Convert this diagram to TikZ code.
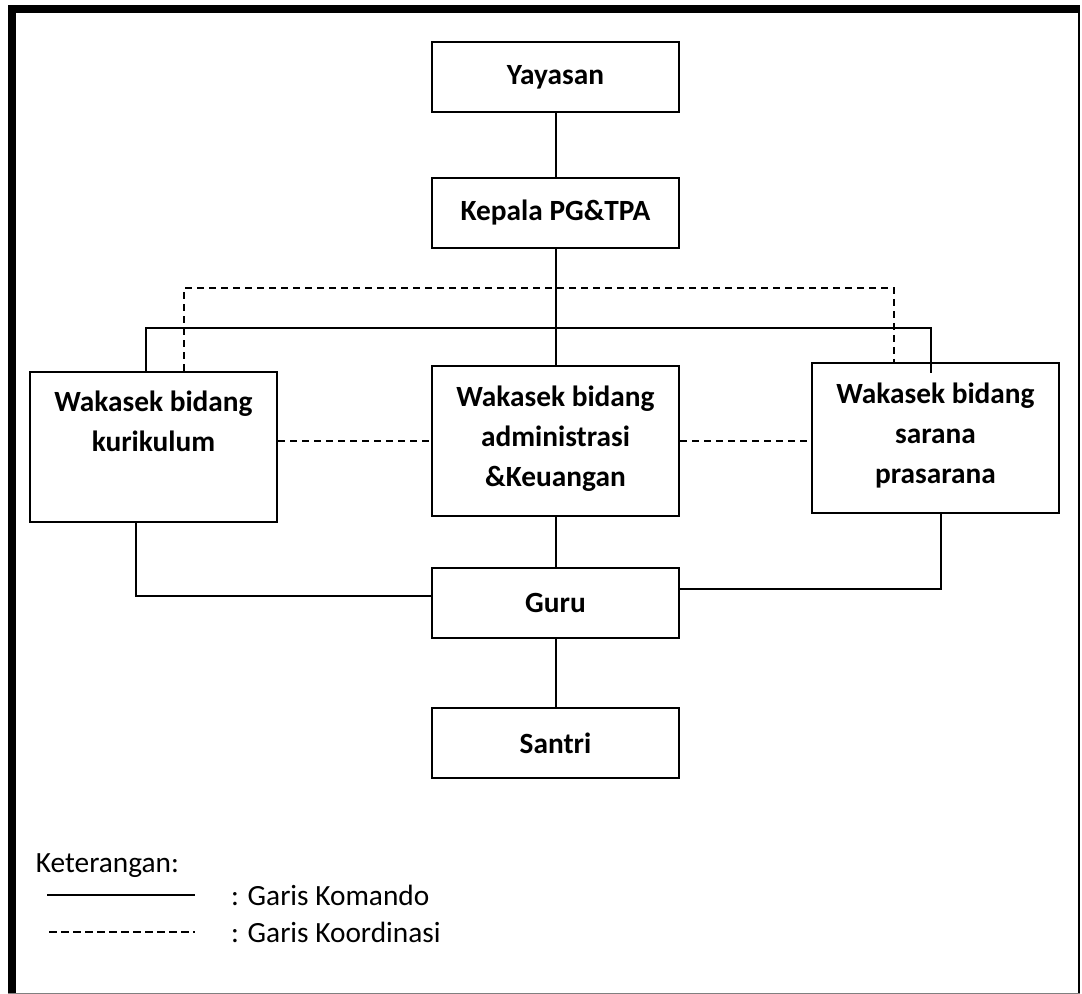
\documentclass[tikz,border=0pt]{standalone}
\usepackage{fontspec}
\setmainfont{Carlito}
\usetikzlibrary{positioning}

\begin{document}
\begin{tikzpicture}[x=0.75pt,y=-0.75pt,line width=1.5pt,
  orgbox/.style={draw,minimum width=185.25pt,minimum height=52.5pt,inner sep=0pt,
    font=\bfseries\fontsize{22}{30}\selectfont},
  wakabox/.style={draw,minimum width=185.25pt,minimum height=112.5pt,inner sep=0pt},
  wakatext/.style={inner sep=0pt,align=center,font=\bfseries\fontsize{22}{30}\selectfont},
  koord/.style={dash pattern=on 5.25pt off 3.75pt},
  legtext/.style={anchor=west,inner sep=0pt,font=\fontsize{22}{26}\selectfont}]
\useasboundingbox (0,0) rectangle (1082,994);
% Frame
\fill (8,5) rectangle (16,994);
\fill (8,5) rectangle (1080,13);
\draw (1079,13) -- (1079,994);
\draw[gray,line width=0.75pt] (8,993.5) -- (1080,993.5);
% Boxes
\node[orgbox] (yay) at (555.5,77) {Yayasan};
\node[orgbox] (kep) at (555.5,213) {Kepala PG\&TPA};
\node[wakabox] (kur) at (153.5,447) {};
\node[wakabox] (adm) at (555.5,441) {};
\node[wakabox] (sar) at (935.5,438) {};
\node[wakatext,below=14pt of kur.north] (kurtxt) {Wakasek bidang\\kurikulum};
\node[wakatext,below=15pt of adm.north] (admtxt) {Wakasek bidang\\administrasi\\\&Keuangan};
\node[wakatext,below=15pt of sar.north] (sartxt) {Wakasek bidang\\sarana\\prasarana};
\node[orgbox] (guru) at (555.5,603) {Guru};
\node[orgbox] (santri) at (555.5,743) {Santri};
% Garis komando
\draw (yay) -- (kep);
\draw (kep) -- (adm);
\coordinate (busL) at (146,328);
\coordinate (busR) at (931,328);
\coordinate (busEnd) at (931,373);
\draw (kur.north -| busL) -- (busL) -- (busR) -- (busEnd);
\draw (adm) -- (guru);
\coordinate (guruL) at (136,596);
\draw (kur.south -| guruL) -- (guruL) -- (guruL -| guru.west);
\coordinate (guruR) at (941,589);
\draw (sar.south -| guruR) -- (guruR) -- (guruR -| guru.east);
\draw (guru) -- (santri);
% Garis koordinasi
\coordinate (koL) at (184,288);
\coordinate (koR) at (894,288);
\draw[koord] (kur.north -| koL) -- (koL) -- (koR) -- (koR |- sar.north);
\draw[koord] (kur.east |- adm.west) -- (adm.west);
\draw[koord] (adm.east) -- (adm.east -| sar.west);
% Keterangan
\node[legtext] (ket) at (35,866) {Keterangan:};
\coordinate (kmdA) at (47,895);
\coordinate (kmdB) at (195,895);
\draw (kmdA) -- (kmdB);
\node[legtext] (kmd) at (230,895) {: Garis Komando};
\coordinate (kooA) at (49,932);
\coordinate (kooB) at (195,932);
\draw[dash pattern=on 6pt off 3pt] (kooA) -- (kooB);
\node[legtext] (koo) at (230,932) {: Garis Koordinasi};
\end{tikzpicture}
\end{document}
